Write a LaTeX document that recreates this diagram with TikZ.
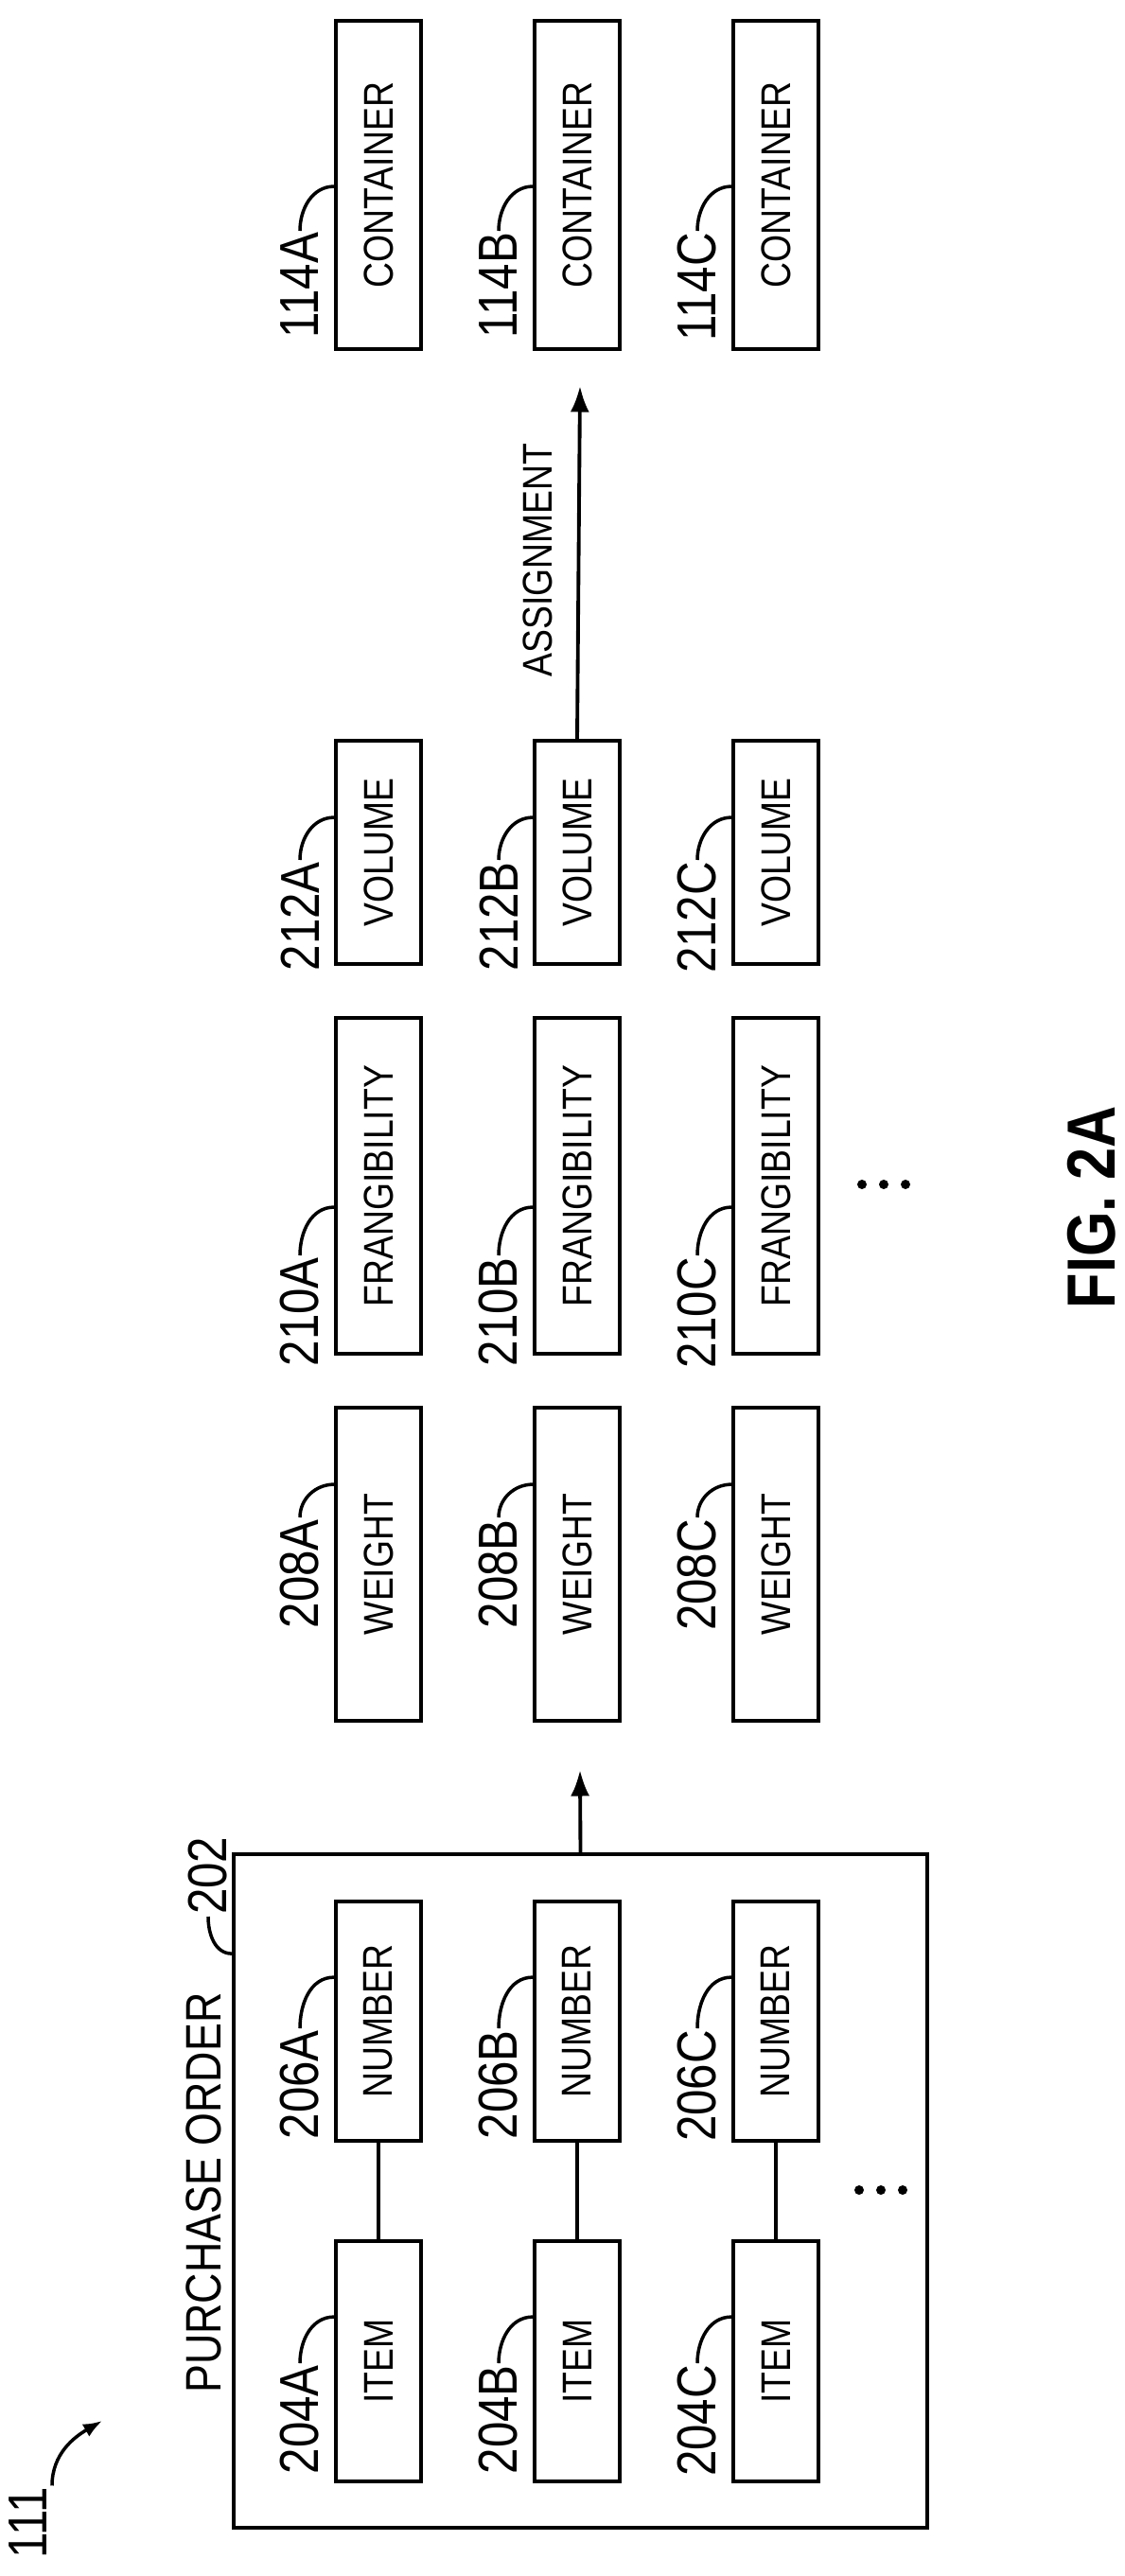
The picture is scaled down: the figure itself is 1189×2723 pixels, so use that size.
\documentclass[tikz,border=0pt]{standalone}
\usepackage{fontspec}
\setmainfont{Liberation Sans}[FakeStretch=0.85]
\usetikzlibrary{arrows.meta}
\tikzset{
  box/.style={draw,line width=2.2pt,rotate=90,minimum height=1.8cm,inner sep=0pt,
    font=\fontsize{25}{30}\selectfont},
  lbl/.style={rotate=90,inner sep=1pt,font=\fontsize{33}{36}\selectfont},
  lead/.style={line width=2pt},
  dot/.style={circle,fill,inner sep=0pt,minimum size=0.2cm},
  arr/.style={line width=2.2pt,-{Latex[length=0.55cm,width=0.4cm]}}
}
\begin{document}
\begin{tikzpicture}[x=0.02cm,y=-0.02cm]
\useasboundingbox (0,0) rectangle (1189,2723);
\foreach \c/\x in {A/400,B/610,C/820}{
  \node[box,minimum width=6.94cm] (con\c) at (\x,195.5) {CONTAINER};
  \node[box,minimum width=4.72cm] (vol\c) at (\x,901) {VOLUME};
  \node[box,minimum width=7.1cm] (fra\c) at (\x,1253.5) {FRANGIBILITY};
  \node[box,minimum width=6.62cm] (wei\c) at (\x,1653.5) {WEIGHT};
  \node[box,minimum width=5.06cm] (num\c) at (\x,2136.5) {NUMBER};
  \node[box,minimum width=5.08cm] (itm\c) at (\x,2496) {ITEM};
  \node[lbl,anchor=east] (l114\c) at (\x-83,244) {114\c};
  \node[lbl,anchor=east] (l212\c) at (\x-83,909) {212\c};
  \node[lbl,anchor=east] (l210\c) at (\x-83,1327) {210\c};
  \node[lbl,anchor=east] (l208\c) at (\x-83,1604) {208\c};
  \node[lbl,anchor=east] (l206\c) at (\x-83,2144) {206\c};
  \node[lbl,anchor=east] (l204\c) at (\x-83,2498) {204\c};
  \draw[lead] (l114\c.east) to[out=90,in=180] ([yshift=-3.54cm]con\c.north east);
  \draw[lead] (l212\c.east) to[out=90,in=180] ([yshift=-1.66cm]vol\c.north east);
  \draw[lead] (l210\c.east) to[out=90,in=180] ([yshift=-4.04cm]fra\c.north east);
  \draw[lead] (l208\c.east) to[out=90,in=180] ([yshift=-1.66cm]wei\c.north east);
  \draw[lead] (l206\c.east) to[out=90,in=180] ([yshift=-1.64cm]num\c.north east);
  \draw[lead] (l204\c.east) to[out=90,in=180] ([yshift=-1.64cm]itm\c.north east);
  \draw[line width=2.2pt] (num\c.west) -- (itm\c.east);
}
\node[draw,line width=2.2pt,minimum width=14.66cm,minimum height=14.24cm] (order) at (613.5,2316) {};
\node[lbl,font=\fontsize{30}{34}\selectfont] (ordertxt) at (215,2318) {PURCHASE ORDER};
\node[lbl,anchor=west] (l202) at (220,2026) {202};
\draw[lead] ([yshift=-2.14cm]order.north west) to[out=180,in=-90] (l202.west);
\coordinate (tipup) at (613,1871);
\draw[arr] (order.north) -- (tipup);
\coordinate (tipasg) at (613,408);
\draw[arr] (volB.east) -- (tipasg);
\node[lbl,font=\fontsize{25}{30}\selectfont] (asg) at (568,592) {ASSIGNMENT};
\foreach \i/\x in {1/908,2/931,3/954}{
  \node[dot] (pdot\i) at (\x,2315) {};
  \node[dot] (fdot\i) at (\x+3,1252) {};
}
\node[rotate=90,font=\bfseries\fontsize{41}{44}\selectfont] (fig) at (1154,1276) {FIG. 2A};
\node[lbl] (n111) at (30,2667) {111};
\coordinate (tip111) at (108,2559);
\draw[line width=2pt,-{Latex[length=0.4cm,width=0.3cm]}] (n111.east) ++(0.5cm,0) coordinate (s111) to[out=90,in=210] (tip111);
\end{tikzpicture}
\end{document}
